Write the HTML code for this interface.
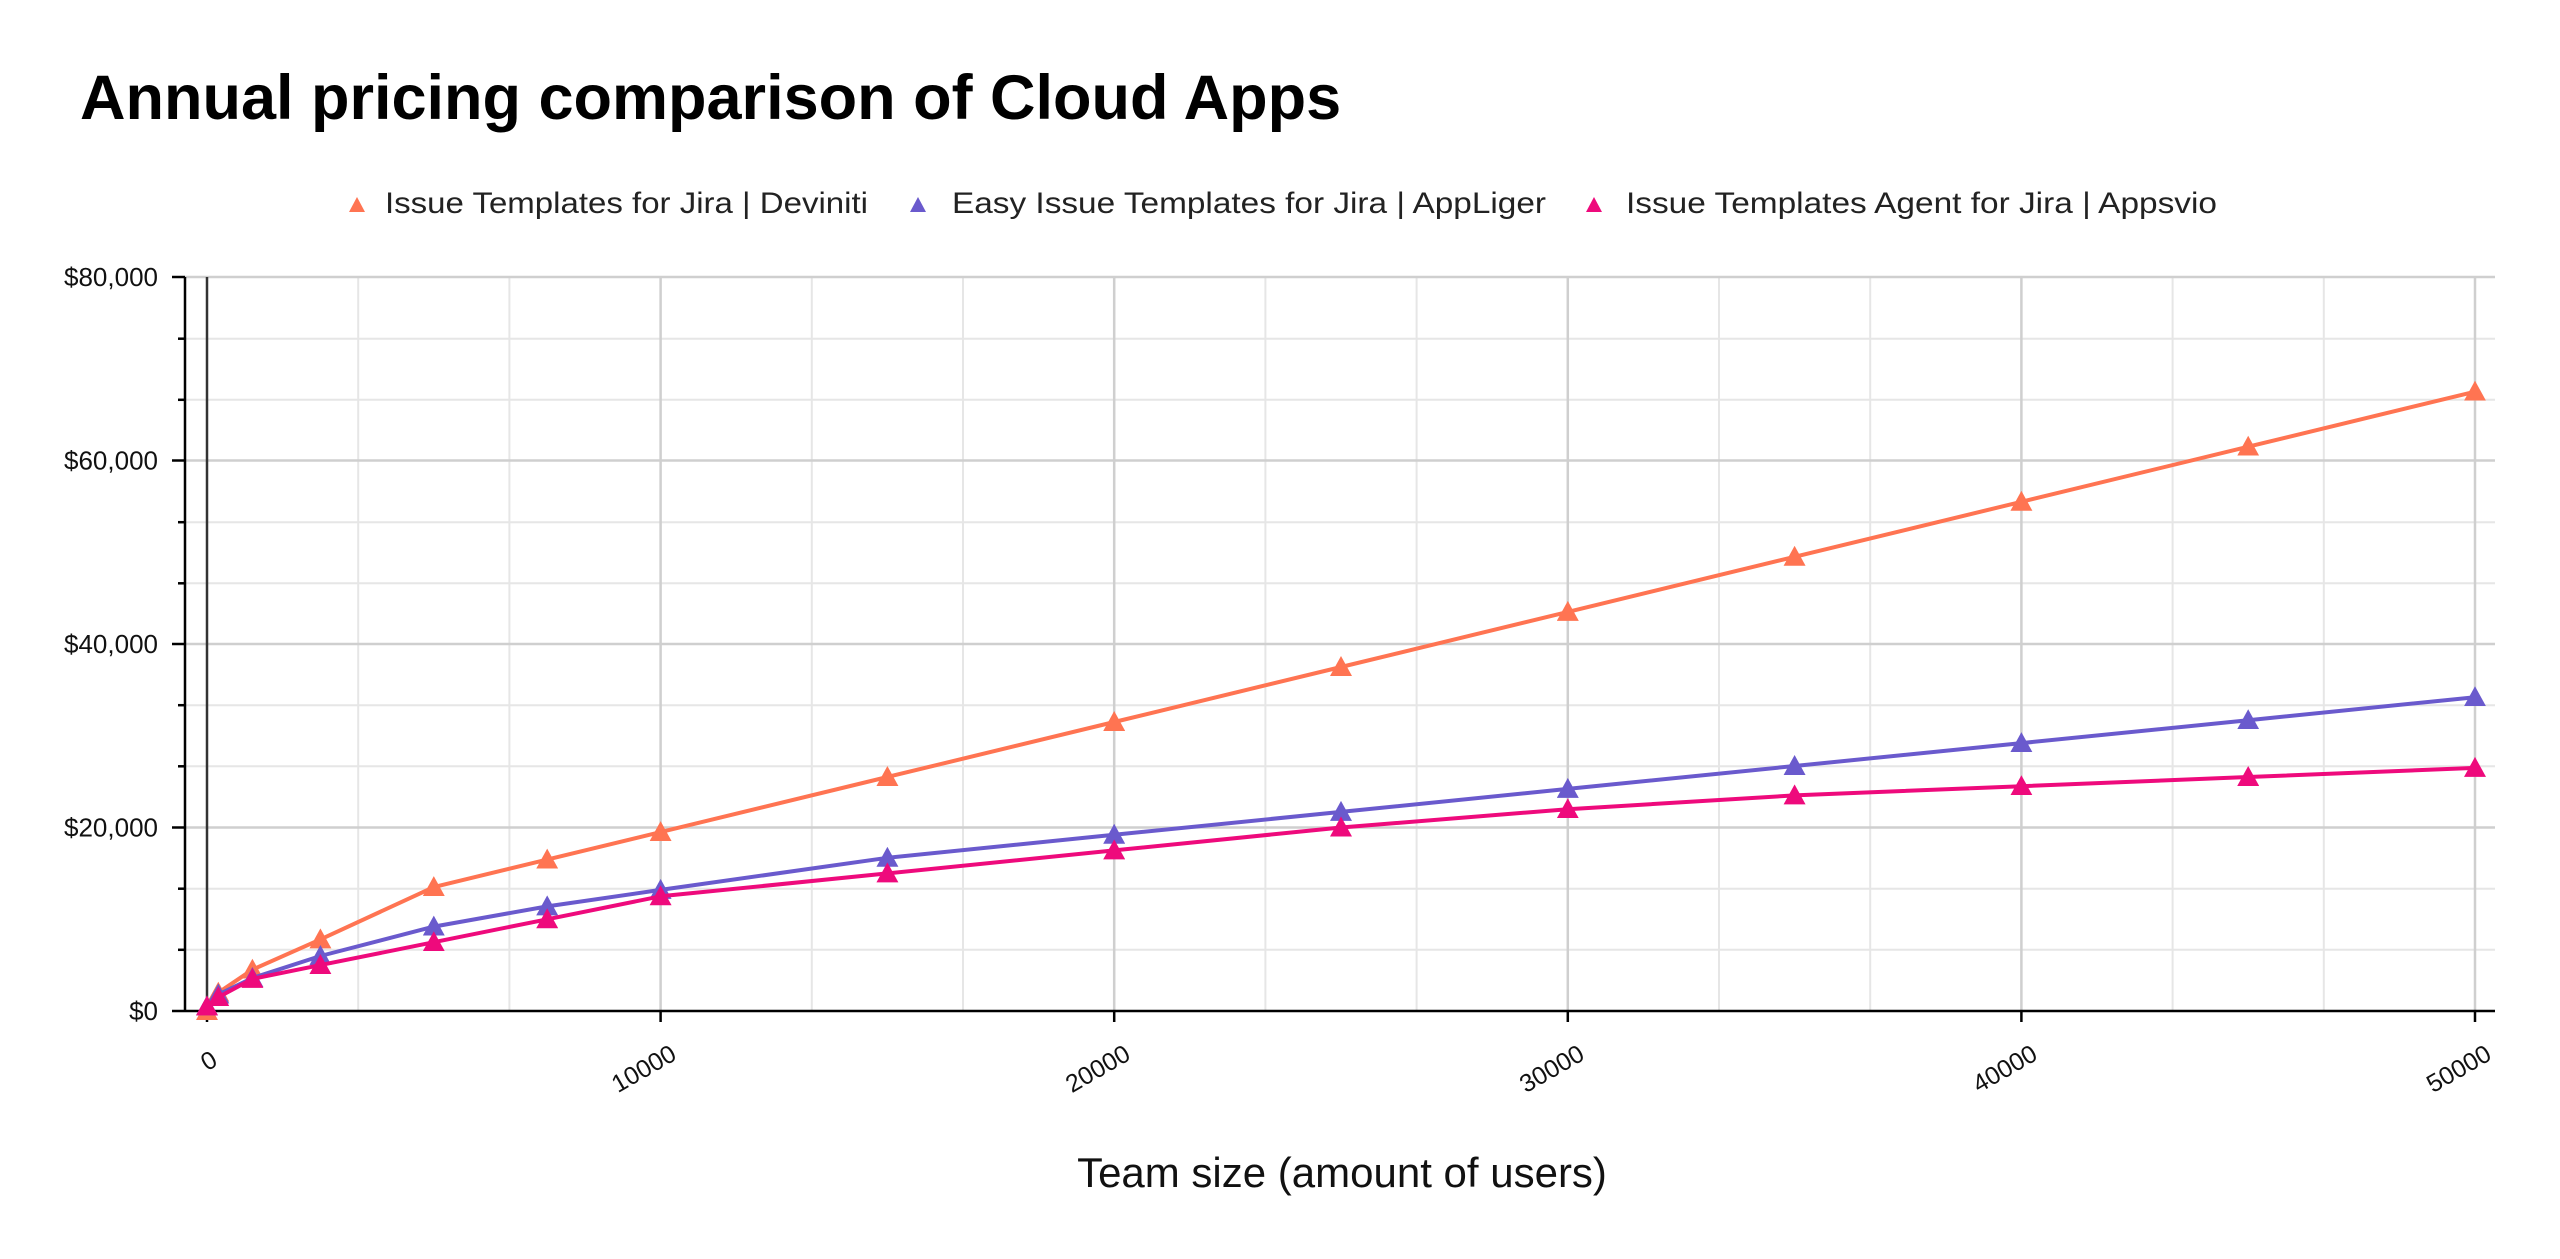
<!DOCTYPE html>
<html><head><meta charset="utf-8"><style>html,body{margin:0;padding:0;background:#fff}svg{display:block}</style></head>
<body>
<svg width="2560" height="1259" viewBox="0 0 2560 1259" xmlns="http://www.w3.org/2000/svg" font-family="Liberation Sans, Arial, sans-serif">
<defs>
<marker id="mo" viewBox="0 0 22 20" refX="11" refY="11" markerWidth="22" markerHeight="20" markerUnits="userSpaceOnUse" orient="0"><polygon points="0,20 11,0 22,20" fill="#ff7452"/></marker>
<marker id="mp" viewBox="0 0 22 20" refX="11" refY="11" markerWidth="22" markerHeight="20" markerUnits="userSpaceOnUse" orient="0"><polygon points="0,20 11,0 22,20" fill="#6a5acd"/></marker>
<marker id="mk" viewBox="0 0 22 20" refX="11" refY="11" markerWidth="22" markerHeight="20" markerUnits="userSpaceOnUse" orient="0"><polygon points="0,20 11,0 22,20" fill="#ee0a7c"/></marker>
</defs>
<rect width="2560" height="1259" fill="#fff"/>
<text x="80" y="119" font-size="63" font-weight="bold" fill="#000">Annual pricing comparison of Cloud Apps</text>
<g font-size="30" fill="#222">
<polygon points="349,212 357,197 365,212" fill="#ff7452"/>
<text x="385" y="213" textLength="483" lengthAdjust="spacingAndGlyphs">Issue Templates for Jira | Deviniti</text>
<polygon points="910,212 918,197 926,212" fill="#6a5acd"/>
<text x="952" y="213" textLength="594" lengthAdjust="spacingAndGlyphs">Easy Issue Templates for Jira | AppLiger</text>
<polygon points="1586,212 1594,197 1602,212" fill="#ee0a7c"/>
<text x="1626" y="213" textLength="591" lengthAdjust="spacingAndGlyphs">Issue Templates Agent for Jira | Appsvio</text>
</g>
<g stroke="#e6e6e6" stroke-width="2">
<line x1="185" x2="2495" y1="949.8" y2="949.8"/><line x1="185" x2="2495" y1="888.7" y2="888.7"/>
<line x1="185" x2="2495" y1="766.3" y2="766.3"/><line x1="185" x2="2495" y1="705.2" y2="705.2"/>
<line x1="185" x2="2495" y1="583.3" y2="583.3"/><line x1="185" x2="2495" y1="522.2" y2="522.2"/>
<line x1="185" x2="2495" y1="399.8" y2="399.8"/><line x1="185" x2="2495" y1="338.7" y2="338.7"/>
<line y1="277" y2="1011" x1="358.2" x2="358.2"/><line y1="277" y2="1011" x1="509.4" x2="509.4"/>
<line y1="277" y2="1011" x1="811.8" x2="811.8"/><line y1="277" y2="1011" x1="963" x2="963"/>
<line y1="277" y2="1011" x1="1265.4" x2="1265.4"/><line y1="277" y2="1011" x1="1416.6" x2="1416.6"/>
<line y1="277" y2="1011" x1="1719" x2="1719"/><line y1="277" y2="1011" x1="1870.2" x2="1870.2"/>
<line y1="277" y2="1011" x1="2172.6" x2="2172.6"/><line y1="277" y2="1011" x1="2323.8" x2="2323.8"/>
</g>
<g stroke="#cfcfcf" stroke-width="2.5">
<line x1="185" x2="2495" y1="277" y2="277"/><line x1="185" x2="2495" y1="460.5" y2="460.5"/>
<line x1="185" x2="2495" y1="644" y2="644"/><line x1="185" x2="2495" y1="827.5" y2="827.5"/>
<line y1="277" y2="1011" x1="660.6" x2="660.6"/><line y1="277" y2="1011" x1="1114.2" x2="1114.2"/>
<line y1="277" y2="1011" x1="1567.8" x2="1567.8"/><line y1="277" y2="1011" x1="2021.4" x2="2021.4"/>
<line y1="277" y2="1011" x1="2475" x2="2475"/>
</g>
<g stroke="#000" stroke-width="2.5">
<line y1="277" y2="1011" x1="207" x2="207" stroke="#333"/>
<line x1="185" x2="185" y1="277" y2="1011"/>
<line x1="172" x2="2495" y1="1011" y2="1011"/>
<line x1="172" x2="185" y1="277" y2="277"/><line x1="172" x2="185" y1="460.5" y2="460.5"/>
<line x1="172" x2="185" y1="644" y2="644"/><line x1="172" x2="185" y1="827.5" y2="827.5"/>
<line x1="178" x2="185" y1="949.8" y2="949.8"/><line x1="178" x2="185" y1="888.7" y2="888.7"/>
<line x1="178" x2="185" y1="766.3" y2="766.3"/><line x1="178" x2="185" y1="705.2" y2="705.2"/>
<line x1="178" x2="185" y1="583.3" y2="583.3"/><line x1="178" x2="185" y1="522.2" y2="522.2"/>
<line x1="178" x2="185" y1="399.8" y2="399.8"/><line x1="178" x2="185" y1="338.7" y2="338.7"/>
<line y1="1011" y2="1022" x1="207" x2="207"/><line y1="1011" y2="1022" x1="660.6" x2="660.6"/>
<line y1="1011" y2="1022" x1="1114.2" x2="1114.2"/><line y1="1011" y2="1022" x1="1567.8" x2="1567.8"/>
<line y1="1011" y2="1022" x1="2021.4" x2="2021.4"/><line y1="1011" y2="1022" x1="2475" x2="2475"/>
</g>
<g font-size="26" fill="#111" text-anchor="end">
<text x="158" y="286">$80,000</text><text x="158" y="469.5">$60,000</text>
<text x="158" y="653">$40,000</text><text x="158" y="836.5">$20,000</text><text x="158" y="1020">$0</text>
</g>
<g font-size="25" fill="#111" text-anchor="middle">
<text transform="translate(213,1068) rotate(-30)">0</text>
<text transform="translate(648,1076) rotate(-30)">10000</text>
<text transform="translate(1102,1076) rotate(-30)">20000</text>
<text transform="translate(1556,1076) rotate(-30)">30000</text>
<text transform="translate(2009,1076) rotate(-30)">40000</text>
<text transform="translate(2463,1076) rotate(-30)">50000</text>
</g>
<text x="1342" y="1187" font-size="42" text-anchor="middle" fill="#111">Team size (amount of users)</text>
<g fill="none" stroke-width="4" stroke-linejoin="round">
<polyline stroke="#ff7452" marker-start="url(#mo)" marker-mid="url(#mo)" marker-end="url(#mo)" points="207,1011 218.3,992.7 252.4,969.7 320.4,939.4 433.8,887.1 547.2,859.6 660.6,832.1 887.4,777 1114.2,722 1341,667 1567.8,611.9 1794.6,556.8 2021.4,501.8 2248.2,446.7 2475,391.7"/>
<polyline stroke="#6a5acd" marker-start="url(#mp)" marker-mid="url(#mp)" marker-end="url(#mp)" points="207,1006.4 218.3,994.5 252.4,978 320.4,956 433.8,926.6 547.2,906.4 660.6,889.9 887.4,857.8 1114.2,834.8 1341,811.9 1567.8,788.9 1794.6,766 2021.4,743.1 2248.2,720.2 2475,697.2"/>
<polyline stroke="#ee0a7c" marker-start="url(#mk)" marker-mid="url(#mk)" marker-end="url(#mk)" points="207,1006.4 218.3,997.2 252.4,978.9 320.4,965.1 433.8,942.2 547.2,919.3 660.6,896.3 887.4,873.4 1114.2,850.4 1341,827.5 1567.8,809.2 1794.6,795.4 2021.4,786.2 2248.2,777 2475,767.9"/>
</g>
</svg>
</body></html>
